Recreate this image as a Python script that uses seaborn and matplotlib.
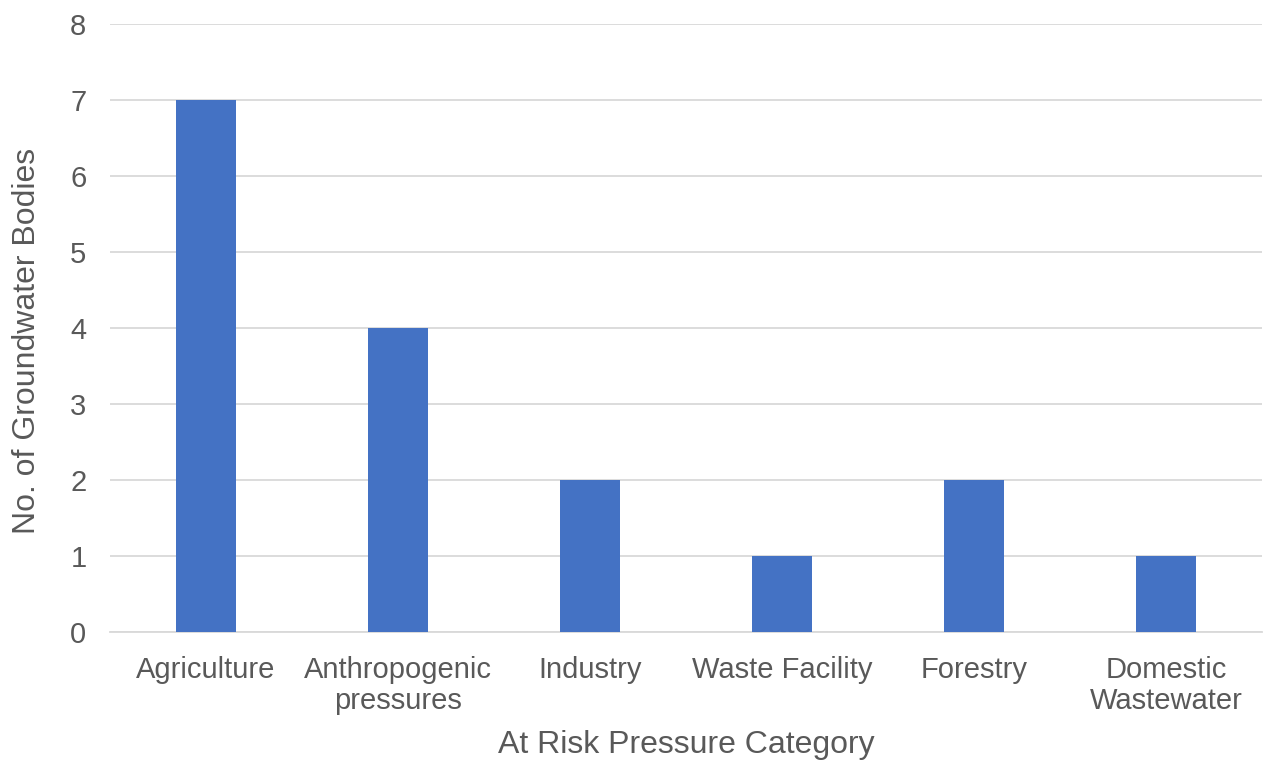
import matplotlib
matplotlib.use("Agg")
import matplotlib.pyplot as plt
import seaborn as sns
import pandas as pd

categories = ["Agriculture", "Anthropogenic\npressures", "Industry",
              "Waste Facility", "Forestry", "Domestic\nWastewater"]
counts = [7, 4, 2, 1, 2, 1]
y_ticks = [0, 1, 2, 3, 4, 5, 6, 7, 8]

sns.set_theme(style="white")
plt.rcParams["font.family"] = ["Liberation Sans", "DejaVu Sans"]

text_color = "#595959"
grid_color = "#D9D9D9"
bar_color = "#4472C4"

df = pd.DataFrame({"category": categories, "count": counts})

fig = plt.figure(figsize=(12.66, 7.61), dpi=100)
ax = fig.add_axes([0.0869, 0.1695, 0.9099, 0.799])

sns.barplot(data=df, x="category", y="count", color=bar_color,
            width=0.3125, saturation=1, linewidth=0, ax=ax, zorder=3)

ax.set_ylim(0, 8)
ax.set_xlim(-0.5, len(categories) - 0.5)
ax.set_yticks(y_ticks)
ax.yaxis.grid(True, color=grid_color, linewidth=1.3, zorder=0)
ax.set_axisbelow(True)

for side in ["top", "right", "left"]:
    ax.spines[side].set_visible(False)
ax.spines["bottom"].set_color(grid_color)
ax.spines["bottom"].set_linewidth(1.3)

ax.tick_params(axis="both", length=0, labelsize=21, colors=text_color)
ax.tick_params(axis="y", pad=17)
ax.tick_params(axis="x", pad=17)
for lbl in ax.get_xticklabels():
    lbl.set_linespacing(1.15)

ax.set_xlabel("At Risk Pressure Category", fontsize=23, color=text_color, labelpad=11)
ax.set_ylabel("No. of Groundwater Bodies", fontsize=23, color=text_color)
ax.yaxis.set_label_coords(-0.059, 0.479)

fig.savefig("out.png", dpi=100)
